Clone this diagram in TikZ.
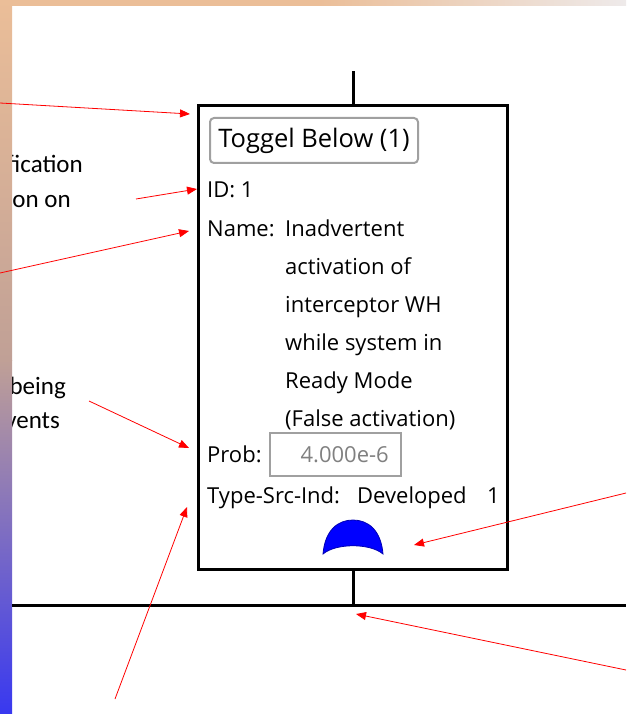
\documentclass[tikz,border=0pt]{standalone}
\usepackage{fontspec}
\setmainfont{Open Sans}
\newfontfamily\notefont{Carlito}
\usetikzlibrary{arrows.meta, positioning}

\definecolor{peach}{RGB}{235,190,152}
\definecolor{tan}{RGB}{192,160,150}
\definecolor{stripblue}{RGB}{56,56,240}
\definecolor{fadegrey}{RGB}{238,234,234}
\definecolor{btngrey}{RGB}{160,160,160}
\definecolor{probgrey}{RGB}{128,128,128}

\begin{document}
\begin{tikzpicture}[x=1pt, y=-1pt,
  evbox/.style={rectangle, draw, line width=3pt, minimum width=309pt, minimum height=463pt},
  btn/.style={rectangle, rounded corners=4pt, draw=btngrey, line width=2pt, minimum width=208pt, minimum height=45pt, font=\fontsize{25.5}{30}\selectfont},
  pbox/.style={rectangle, draw=btngrey, line width=2.5pt, minimum width=131pt, minimum height=43pt},
  field/.style={anchor=base west, inner sep=0pt, font=\fontsize{22}{26}\selectfont},
  note/.style={anchor=base east, inner sep=0pt, font=\notefont\fontsize{25}{29}\selectfont},
  ptr/.style={-{Triangle[length=10pt, width=8pt]}, red, line width=0.8pt},
  wire/.style={line width=3pt}
]

\useasboundingbox (0,0) rectangle (626,714);
\clip (0,0) rectangle (626,714);

% slide background
\fill[peach] (0,0) rectangle (320,6);
\shade[left color=peach, right color=fadegrey] (320,0) rectangle (626,6);

\node[note] (n1) at (83,173) {fication};
\node[note] (n2) at (71,207) {ion on};
\node[note] (n3) at (66,394) {being};
\node[note] (n4) at (60,428) {vents};

\shade[top color=peach, bottom color=tan] (0,0) rectangle (12,360);
\shade[top color=tan, bottom color=stripblue] (0,360) rectangle (12,714);

% event box and tree lines
\node[evbox] (ev) at (353,337.5) {};
\coordinate (top) at (353,71);
\coordinate (busL) at (12,605);
\coordinate (busR) at (626,605);

\draw[wire] (ev.north) -- (top);
\draw[wire] (busL) -- (busR);
\draw[wire] (ev.south) -- (ev.south |- busL);

\node[btn] (tog) at (314,140.5) {Toggel Below (1)};
\node[field] (id) at (207,197) {ID: 1};
\node[field] (nm) at (207,236) {Name:};
\foreach \ln [count=\i from 0] in {Inadvertent, activation of, interceptor WH, while system in, Ready Mode, (False activation)}
  \node[field] (nl\i) at (285,236+38*\i) {\ln};

\node[field] (pl) at (207,462) {Prob:};
\node[pbox] (pb) at (335.5,454.5) {};
\node[field, anchor=base east, text=probgrey] (pv) at (389,462) {4.000e-6};

\node[field] (ty) at (207,503) {Type-Src-Ind:};
\node[field] (dv) at (357,503) {Developed};
\node[field] (ix) at (487,503) {1};

% developed event symbol
\filldraw[fill=blue, draw=blue!70!black, line width=0.8pt]
  (323,554) .. controls (325,530) and (338,520) .. (353,520)
  .. controls (368,520) and (381,530) .. (383,554)
  .. controls (370,543) and (336,543) .. (323,554) -- cycle;

% callout arrows
\coordinate (s1) at (0,103);   \coordinate (t1) at (190,114);
\coordinate (s2) at (136,199); \coordinate (t2) at (197,189);
\coordinate (s3) at (0,273);   \coordinate (t3) at (189,231);
\coordinate (s4) at (89,401);  \coordinate (t4) at (189,448);
\coordinate (s5) at (115,699); \coordinate (t5) at (187,507);
\coordinate (s6) at (626,493); \coordinate (t6) at (414,545);
\coordinate (s7) at (626,670); \coordinate (t7) at (356,614);

\draw[ptr] (s1) -- (t1);
\draw[ptr] (s2) -- (t2);
\draw[ptr] (s3) -- (t3);
\draw[ptr] (s4) -- (t4);
\draw[ptr] (s5) -- (t5);
\draw[ptr] (s6) -- (t6);
\draw[ptr] (s7) -- (t7);

\end{tikzpicture}
\end{document}
